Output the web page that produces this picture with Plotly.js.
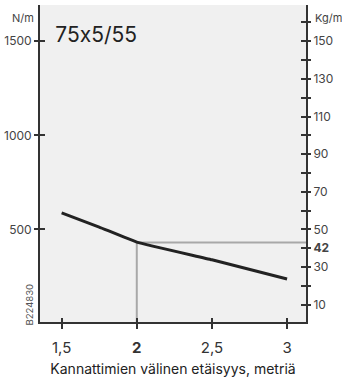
<!DOCTYPE html>
<html>
<head>
<meta charset="utf-8">
<script src="https://cdn.plot.ly/plotly-3.0.1.min.js"></script>
<style>
html,body{margin:0;padding:0;background:#fff}
#chart{width:342px;height:380px}
#chart text{font-feature-settings:"calt" 0;font-variant-ligatures:no-contextual}
</style>
</head>
<body>
<div id="chart"></div>
<script>
// Data
const spanM = [1.5, 1.75, 2, 2.5, 3];          // support spacing, metres
const loadNm = [587, 512, 432, 338, 236];      // allowed load, N/m
const readSpan = [2];                          // highlighted reading
const readLoad = [430];                        // N/m at highlighted reading
const xTickVals = [1.5, 2, 2.5, 3];
const xTickText = ['1,5', '<b>2</b>', '2,5', '3'];
const leftTickVals = [500, 1000, 1500];
const leftTickText = ['500', '1000', '1500'];
const rightTickVals = [10, 20, 30, 40, 50, 60, 70, 80, 90, 100, 110, 120, 130, 140, 150, 160];
const rightTickText = ['10', '', '30', '<b>42</b>', '50', '', '70', '', '90', '', '110', '', '130', '', '150', ''];

const xRange = [1.356, 3.126];
const yRange = [7, 1693];
const yRange2 = [yRange[0] / 10, yRange[1] / 10];
const font = 'Inter, "Open Sans", Roboto, sans-serif';
const axCol = '#333';

const traces = [
  {
    x: [readSpan[0], readSpan[0], xRange[1] + 1],
    y: [yRange[0] - 50, readLoad[0], readLoad[0]],
    mode: 'lines', line: {color: '#a8a8a8', width: 2},
    hoverinfo: 'skip', showlegend: false
  },
  {
    x: spanM, y: loadNm, mode: 'lines',
    line: {color: '#222', width: 3, shape: 'spline', smoothing: 0.3},
    showlegend: false
  },
  {x: [], y: [], xaxis: 'x', yaxis: 'y2', showlegend: false},
  {x: [], y: [], xaxis: 'x', yaxis: 'y3', showlegend: false},
  {x: [], y: [], xaxis: 'x', yaxis: 'y4', showlegend: false},
  {x: [], y: [], xaxis: 'x2', yaxis: 'y', showlegend: false}
];

const baseAx = {showgrid: false, zeroline: false, fixedrange: true};

const layout = {
  width: 342, height: 380,
  margin: {l: 40, r: 36, t: 5, b: 58},
  paper_bgcolor: '#ffffff',
  plot_bgcolor: '#f0f0f0',
  font: {family: font, color: '#333'},
  showlegend: false,
  xaxis: Object.assign({}, baseAx, {
    range: xRange, showline: true, linecolor: axCol, linewidth: 2,
    ticks: 'outside', ticklen: 5, tickwidth: 2, tickcolor: axCol,
    tickvals: xTickVals, ticktext: xTickText,
    tickfont: {size: 15, color: '#333', family: font},
    ticklabelstandoff: 6,
    title: {text: 'Kannattimien välinen etäisyys, metriä', font: {size: 14, color: '#222', family: font}, standoff: 8}
  }),
  xaxis2: Object.assign({}, baseAx, {
    range: xRange, overlaying: 'x', anchor: 'y', side: 'bottom',
    showline: false, ticks: 'inside', ticklen: 4, tickwidth: 2, tickcolor: axCol,
    tickvals: xTickVals, showticklabels: false
  }),
  yaxis: Object.assign({}, baseAx, {
    range: yRange, showline: true, linecolor: axCol, linewidth: 2,
    ticks: 'outside', ticklen: 4, tickwidth: 2, tickcolor: axCol,
    tickvals: leftTickVals, ticktext: leftTickText,
    tickfont: {size: 12, color: '#444', family: font}
  }),
  yaxis3: Object.assign({}, baseAx, {
    range: yRange, overlaying: 'y', side: 'left', anchor: 'x',
    showline: false, ticks: 'inside', ticklen: 5, tickwidth: 2, tickcolor: axCol,
    tickvals: leftTickVals, showticklabels: false
  }),
  yaxis2: Object.assign({}, baseAx, {
    range: yRange2, overlaying: 'y', side: 'right', anchor: 'x',
    showline: true, linecolor: axCol, linewidth: 2,
    ticks: 'outside', ticklen: 3, tickwidth: 2, tickcolor: axCol,
    tickvals: rightTickVals, ticktext: rightTickText,
    tickfont: {size: 12, color: '#444', family: font}
  }),
  yaxis4: Object.assign({}, baseAx, {
    range: yRange2, overlaying: 'y', side: 'right', anchor: 'x',
    showline: false, ticks: 'inside', ticklen: 5, tickwidth: 2, tickcolor: axCol,
    tickvals: rightTickVals, showticklabels: false
  }),
  annotations: [
    {text: 'N/m', xref: 'paper', yref: 'paper', x: -0.065, y: 0.96, xanchor: 'center', yanchor: 'middle',
     showarrow: false, font: {size: 11, color: '#444', family: font}},
    {text: 'Kg/m', xref: 'paper', yref: 'paper', x: 1.085, y: 0.96, xanchor: 'center', yanchor: 'middle',
     showarrow: false, font: {size: 11, color: '#444', family: font}},
    {text: '75x5/55', xref: 'paper', yref: 'paper', x: 0.045, y: 0.908, xanchor: 'left', yanchor: 'middle',
     showarrow: false, font: {size: 21, color: '#222', family: font}},
    {text: 'B224830', xref: 'paper', yref: 'paper', x: -0.038, y: 0.055, xanchor: 'center', yanchor: 'middle',
     textangle: -90, showarrow: false, font: {size: 9.5, color: '#555', family: font}}
  ]
};

Plotly.newPlot('chart', traces, layout, {staticPlot: true, displayModeBar: false});
</script>
</body>
</html>
